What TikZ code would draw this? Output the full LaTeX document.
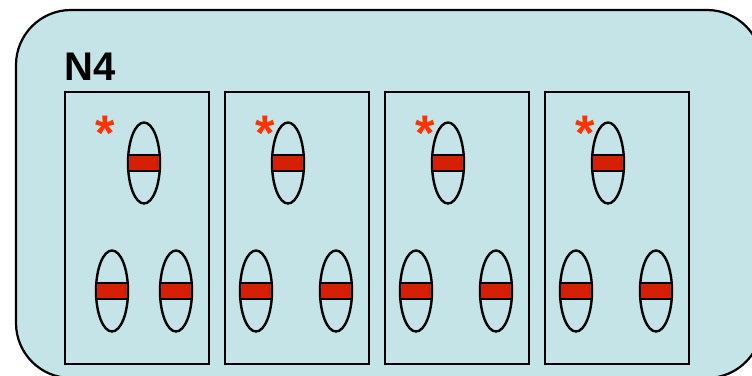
\documentclass[tikz,border=0pt]{standalone}
\usepackage{fontspec}
\setmainfont{Liberation Sans}
\usetikzlibrary{shapes.geometric}
\definecolor{nucleus}{HTML}{C5E4E8}
\definecolor{bandred}{HTML}{D42000}
\definecolor{markred}{HTML}{FF3300}

\begin{document}
\begin{tikzpicture}[x=1pt,y=-1pt,
  cell/.style={draw, line width=2.2pt, minimum width=144pt, minimum height=272pt, inner sep=0pt, anchor=north west},
  chrom/.style={draw, line width=2.4pt, ellipse, minimum width=32pt, minimum height=81pt, inner sep=0pt},
  band/.style={draw, line width=2.2pt, fill=bandred, minimum width=32pt, minimum height=16pt, inner sep=0pt},
  star/.style={text=markred, font=\bfseries\fontsize{50}{50}\selectfont, inner sep=0pt, anchor=base}]
\useasboundingbox (0,0) rectangle (752,375);
\begin{scope}
\clip (0,0) rectangle (752,375);
\draw[fill=nucleus, line width=2.2pt, rounded corners=55pt] (16,10) rectangle (762,378);
\end{scope}
\node[anchor=base west, inner sep=0pt, font=\bfseries\fontsize{40}{40}\selectfont] (title) at (64,80) {N4};
% four cells: box left, top chromosome offset, lower left offset
\foreach \i/\bx/\tx/\lx in {1/64/80/48, 2/224/64/32, 3/384/64/32, 4/544/64/32} {
  \node[cell] (box\i) at (\bx,91) {};
  \node[chrom] (top\i) at (\bx+\tx,163) {};
  \node[band] at (top\i.center) {};
  \node[chrom] (low\i) at (\bx+\lx,291) {};
  \node[band] at (low\i.center) {};
  \node[chrom] (right\i) at (\bx+112,291) {};
  \node[band] at (right\i.center) {};
  \node[star] (mark\i) at (\bx+41,150) {*};
}
\end{tikzpicture}
\end{document}
